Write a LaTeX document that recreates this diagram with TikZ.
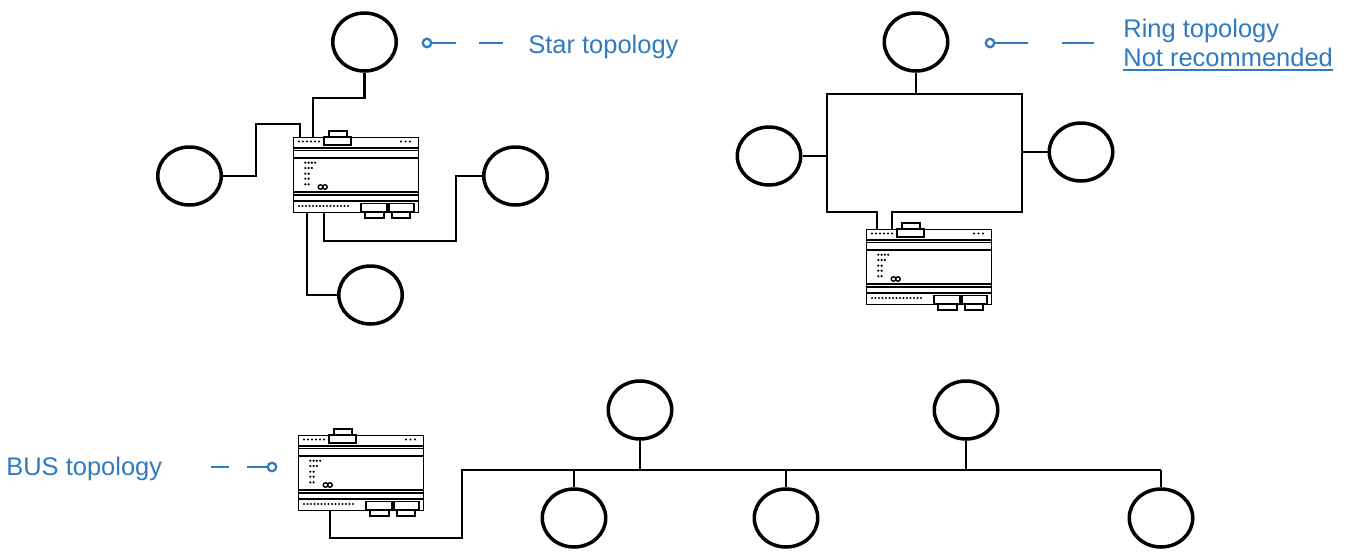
\documentclass[tikz,border=0pt]{standalone}
\usepackage{fontspec}
\setmainfont{Liberation Sans}
\usetikzlibrary{shapes.geometric,calc}
\definecolor{tblue}{HTML}{2F7AC0}
\tikzset{%
    stn/.style={ellipse,draw,line width=2pt,minimum width=1.27cm,minimum height=1.16cm,inner sep=0pt},
    dev/.style={rectangle,draw,line width=.7pt,minimum width=2.5cm,minimum height=1.5cm,inner sep=0pt,anchor=north west},
    wire/.style={line width=1.15pt},
    lead/.style={draw=tblue,line width=1.3pt},
    mk/.style={circle,draw=tblue,line width=1.3pt,minimum size=.17cm,inner sep=0pt},
    lbl/.style={text=tblue,font=\fontsize{14.5}{17}\selectfont,inner sep=0pt,anchor=base west},
    led/.style={radius=.24mm}
}
\newcommand{\gwbox}[2]{%
  \node[dev] (#1) at (#2) {};
  \begin{scope}[shift={(#1.north west)},line width=.6pt]
    \draw (0,11) -- (125,11) (0,13.5) -- (125,13.5) (0,21) -- (125,21)
          (0,55) -- (125,55) (0,58) -- (125,58) (0,64) -- (125,64);
    \draw[fill=white] (36,-6) rectangle (54,0) (31,0) rectangle (58,8);
    \foreach \k in {0,...,5} \fill (6+4*\k,4.5) circle[led];
    \foreach \k in {0,1,2} \fill (108+4.5*\k,4.5) circle[led];
    \foreach \r/\n in {25.7/4,31/3,36.7/2,41.7/2,47.3/2}
      \foreach \k in {1,...,\n} \fill (9+3.3*\k,\r) circle[led];
    \draw[line width=.8pt] (27.5,50) circle[radius=.045cm] (32,50) circle[radius=.045cm];
    \foreach \k in {0,...,14} \fill (6+3.5*\k,69) circle[led];
    \draw[fill=white] (68,66.5) rectangle (94,75) (96,66.5) rectangle (121,75);
    \draw[fill=white] (72,75) rectangle (91,81) (99,75) rectangle (117,81);
  \end{scope}}

\begin{document}
\begin{tikzpicture}[x=.02cm,y=-.02cm]
\useasboundingbox (0,0) rectangle (1349,552);
%%%%% star
\node[stn] (st-top) at (364.5,42) {};
\node[stn] (st-left) at (189.5,176) {};
\node[stn] (st-right) at (515.5,176) {};
\node[stn] (st-bot) at (370.5,295) {};
\gwbox{st-dev}{293,137}
\draw[wire] (st-top.south) -- ++(0,25) -| ($(st-dev.north west)+(20,0)$);
\draw[wire] (st-left.east) -- ++(33,0) |- ($(st-dev.north west)+(7,-13)$) -- ($(st-dev.north west)+(7,0)$);
\draw[wire] (st-right.west) -- ++(-26,0) |- ($(st-dev.south west)+(31,28)$) -- ($(st-dev.south west)+(31,0)$);
\draw[wire] (st-bot.west) -| ($(st-dev.south west)+(14,0)$);
\node[mk] (st-mk) at (427,43) {};
\draw[lead] (st-mk.east) -- ++(24,0) ++(23,0) -- ++(24,0);
\node[lbl] (st-lbl) at (528,53) {Star topology};
%%%%% ring
\node[stn] (rg-top) at (916,42) {};
\node[stn] (rg-left) at (769,156) {};
\node[stn] (rg-right) at (1081,152) {};
\gwbox{rg-dev}{866,229}
\coordinate (rg-nw) at (827,94);
\coordinate (rg-se) at (1022,212);
\draw[wire] ($(rg-dev.north west)+(11,0)$) |- (rg-nw |- rg-se) -- (rg-nw) -| (rg-se) -| ($(rg-dev.north west)+(26,0)$);
\draw[wire] (rg-top.south) -- (rg-top.south |- rg-nw);
\draw[wire] (rg-left.east) -- (rg-left.east -| rg-nw);
\draw[wire] (rg-right.west) -- (rg-right.west -| rg-se);
\node[mk] (rg-mk) at (990,43) {};
\draw[lead] (rg-mk.east) -- ++(33,0) ++(34,0) -- ++(32,0);
\node[lbl] (rg-lbl) at (1123,37) {Ring topology};
\node[lbl] (rg-nr) at (1123,66) {Not recommended};
\draw[lead] ([yshift=-2.3pt]rg-nr.base west) -- ([yshift=-2.3pt]rg-nr.base east);
%%%%% bus
\gwbox{bus-dev}{298,435}
\coordinate (bus-a) at (462,470);
\coordinate (bus-b) at (1161,470);
\node[stn] (bu-t1) at (640,410) {};
\node[stn] (bu-t2) at (966,410) {};
\node[stn] (bu-b1) at (574,518) {};
\node[stn] (bu-b2) at (786,518) {};
\node[stn] (bu-b3) at (1161,518) {};
\draw[wire] ($(bus-dev.south west)+(32,0)$) -- ++(0,27) -| (bus-a) -- (bus-b);
\foreach \n in {bu-t1,bu-t2} \draw[wire] (\n.south) -- (\n.south |- bus-a);
\foreach \n in {bu-b1,bu-b2,bu-b3} \draw[wire] (\n.north) -- (\n.north |- bus-a);
\node[mk] (bus-mk) at (272,467) {};
\draw[lead] (bus-mk.west) -- ++(-20,0) ++(-18,0) -- ++(-18,0);
\node[lbl] (bus-lbl) at (6,475) {BUS topology};
\end{tikzpicture}
\end{document}
